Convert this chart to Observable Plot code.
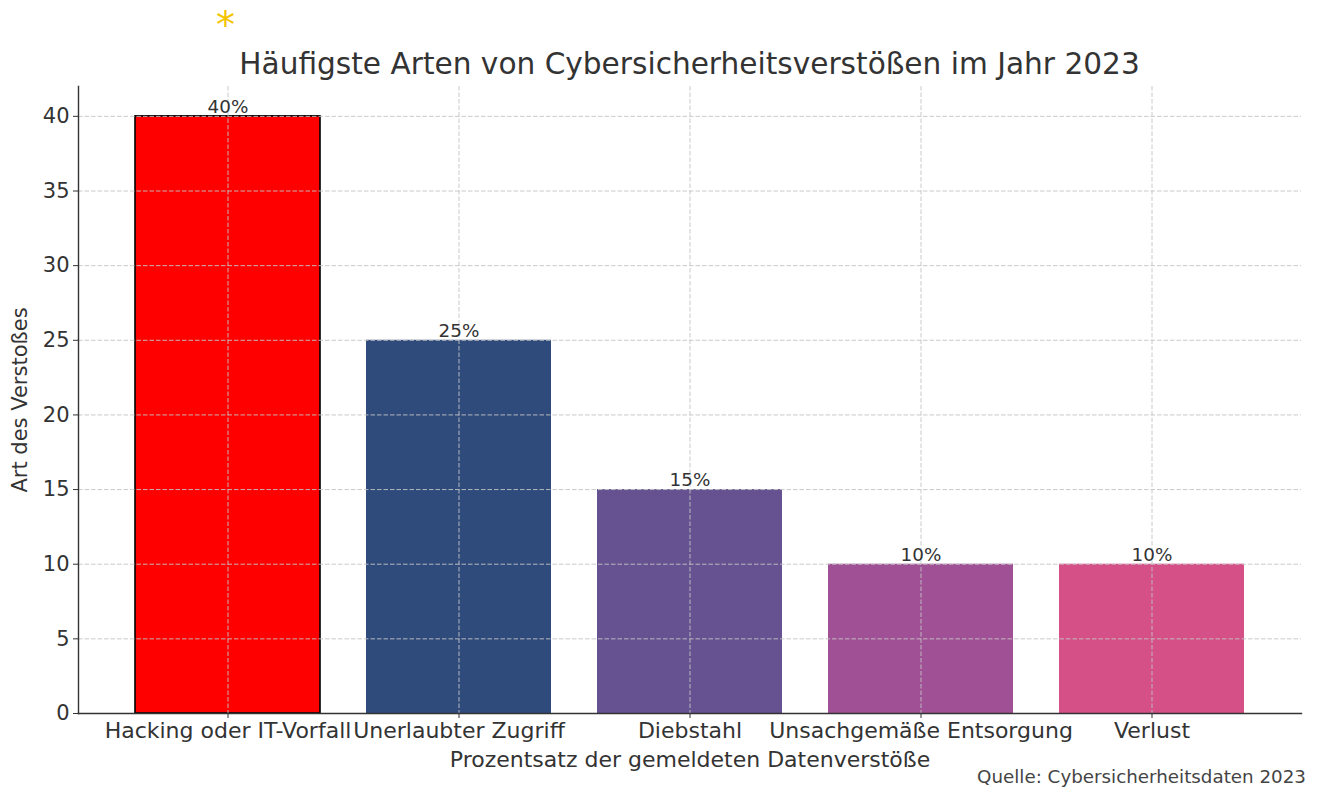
<!DOCTYPE html>
<html><head><meta charset="utf-8">
<script src="https://cdn.jsdelivr.net/npm/d3@7"></script>
<script src="https://cdn.jsdelivr.net/npm/@observablehq/plot@0.6"></script>
<style>
body{margin:0;background:#fff;font-family:"DejaVu Sans",sans-serif;}
#wrap{position:relative;width:1320px;}
#title{position:relative;height:80px;box-sizing:border-box;width:1301px;}
#title .t{position:absolute;left:78px;right:0;top:48px;text-align:center;font-size:29.6px;color:#333;line-height:32px;}
#title .star{position:absolute;left:216px;top:8px;font-size:38px;color:#f5c400;line-height:34px;}
#chart svg{display:block;}
#caption{text-align:right;width:1306px;font-size:18.3px;color:#444;margin-top:-20px;position:relative;}
</style></head>
<body><div id="wrap">
<div id="title"><span class="star">*</span><div class="t">Häufigste Arten von Cybersicherheitsverstößen im Jahr 2023</div></div>
<div id="chart"></div>
<div id="caption">Quelle: Cybersicherheitsdaten 2023</div>
</div>
<script>
const categories = ["Hacking oder IT-Vorfall","Unerlaubter Zugriff","Diebstahl","Unsachgemäße Entsorgung","Verlust"];
const values = [40,25,15,10,10];
const barLabels = ["40%","25%","15%","10%","10%"];
const palette = ["#ff0000","#2f4b7c","#665191","#a05195","#d45087"];
const yTicks = [0,5,10,15,20,25,30,35,40];

const data = categories.map((c,i)=>({cat:c, value:values[i], label:barLabels[i]}));
const grid = {stroke:"#c4c4c4", strokeOpacity:1, strokeDasharray:"4.5,2", strokeWidth:0.9};

const chart = Plot.plot({
  width:1320, height:706,
  marginLeft:78, marginRight:19, marginTop:6, marginBottom:73,
  x:{domain:categories, paddingInner:0.2, paddingOuter:0.24, label:null},
  y:{domain:[0,42], label:null},
  color:{domain:categories, range:palette},
  style:{fontFamily:"DejaVu Sans", fontSize:"21px", color:"#333", background:"#fff"},
  marks:[
    Plot.barY(data,{x:"cat", y:"value", fill:"cat", stroke:d=>d.cat===categories[0]?"#000":"none", strokeWidth:1.6}),
    Plot.gridY(yTicks, grid),
    Plot.gridX(grid),
    Plot.text(data,{x:"cat", y:"value", text:"label", dy:-9, fontSize:18.4, fill:"#333"}),
    Plot.axisY(yTicks,{tickSize:5, tickPadding:4, fontSize:21, label:"Art des Verstoßes", labelAnchor:"center", labelArrow:"none", labelOffset:66, stroke:"#333"}),
    Plot.axisX({tickSize:5, tickPadding:4, fontSize:22, label:"Prozentsatz der gemeldeten Datenverstöße", labelAnchor:"center", labelOffset:53, stroke:"#333"}),
    Plot.frame({anchor:"left", stroke:"#333", strokeWidth:1.4}),
    Plot.frame({anchor:"bottom", stroke:"#333", strokeWidth:1.4})
  ]
});
document.getElementById("chart").appendChild(chart);
</script>
</body></html>
